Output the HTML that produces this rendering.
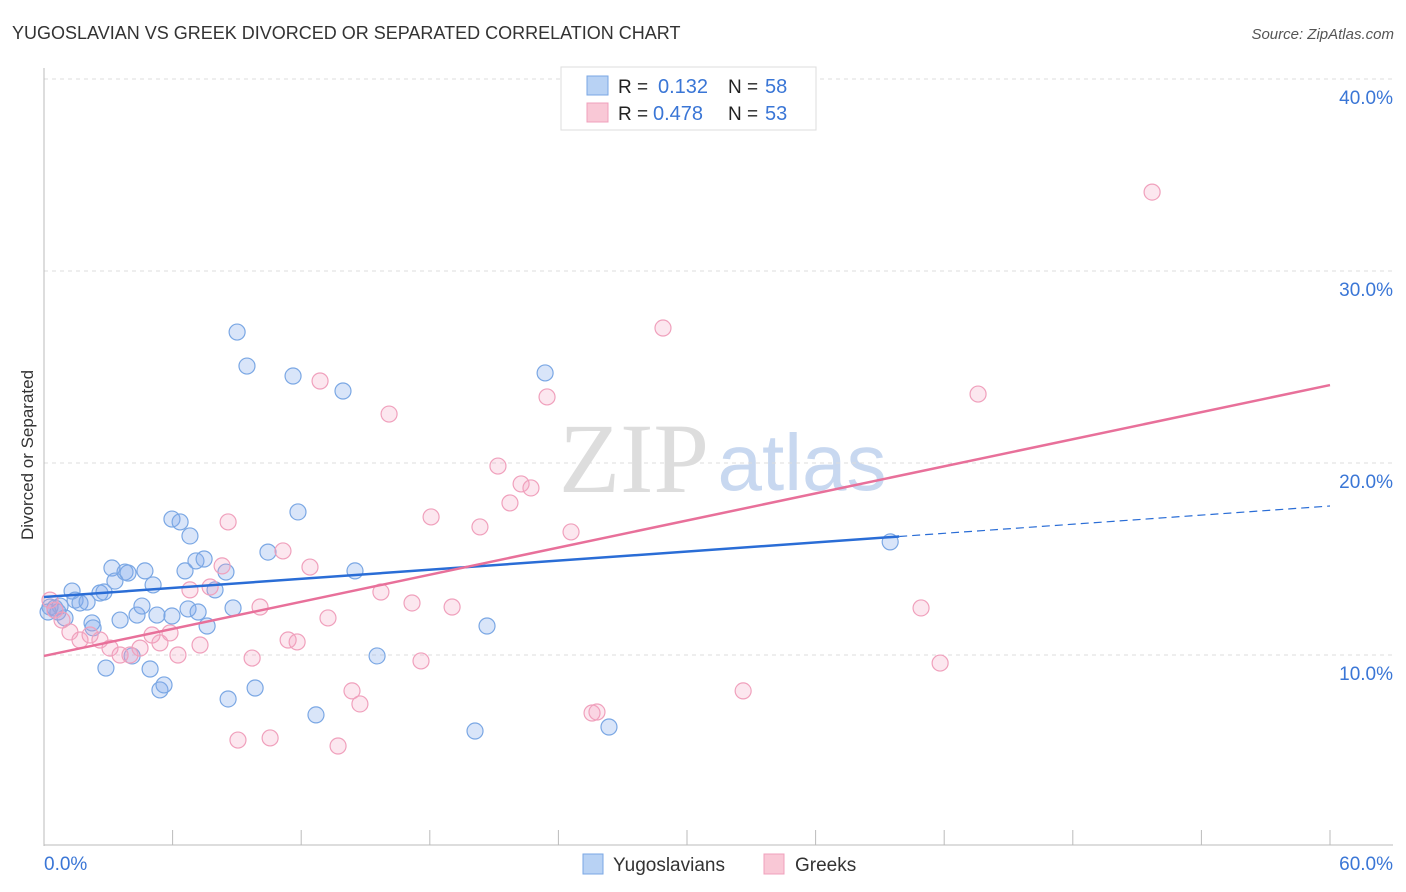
<!DOCTYPE html>
<html><head><meta charset="utf-8"><style>
body{margin:0;background:#fff;font-family:"Liberation Sans",sans-serif;}
svg{display:block}
</style></head><body>
<svg id="chart" width="1406" height="892">
<text x="12" y="39" font-size="18" fill="#333">YUGOSLAVIAN VS GREEK DIVORCED OR SEPARATED CORRELATION CHART</text>
<text x="1394" y="39" font-size="15" fill="#555" font-style="italic" text-anchor="end">Source: ZipAtlas.com</text>
<text x="33" y="455" font-size="17" fill="#333" text-anchor="middle" transform="rotate(-90 33 455)">Divorced or Separated</text>
<g><text x="634" y="492" font-size="100" font-family="Liberation Serif,serif" fill="#ddd" text-anchor="middle">ZIP</text><text x="802" y="490" font-size="80" fill="#c8d8f0" text-anchor="middle">atlas</text></g>
<g id="grid"></g><g id="axes"></g><g id="marks"></g>
<g>
<rect x="561" y="67" width="255" height="63" fill="#fff" stroke="#ddd"/>
<rect x="587" y="76" width="21" height="19" fill="#b8d2f4" stroke="#7aa7e4"/>
<rect x="587" y="103" width="21" height="19" fill="#f9c8d6" stroke="#f0a0bc"/>
<text x="618" y="93" font-size="19" fill="#222">R = </text><text x="658" y="93" font-size="20" fill="#3a76d6">0.132</text>
<text x="728" y="93" font-size="19" fill="#222">N = </text><text x="765" y="93" font-size="20" fill="#3a76d6">58</text>
<text x="618" y="120" font-size="19" fill="#222">R = </text><text x="653" y="120" font-size="20" fill="#3a76d6">0.478</text>
<text x="728" y="120" font-size="19" fill="#222">N = </text><text x="765" y="120" font-size="20" fill="#3a76d6">53</text>
</g>
<g>
<rect x="583" y="854" width="20" height="20" fill="#b8d2f4" stroke="#7aa7e4"/>
<text x="613" y="871" font-size="19" fill="#333">Yugoslavians</text>
<rect x="764" y="854" width="20" height="20" fill="#f9c8d6" stroke="#f0a0bc"/>
<text x="795" y="871" font-size="19" fill="#333">Greeks</text>
</g>
</svg>
<script>
const yTicks=[10,20,30,40];
const yTickLabels=["10.0%","20.0%","30.0%","40.0%"];
const xTicks=[0,6,12,18,24,30,36,42,48,54,60];
const blueX=[0.28,0.51,0.75,0.98,1.31,1.45,1.68,2.01,2.24,2.29,2.61,2.8,2.89,3.17,3.31,3.55,3.78,3.92,4.11,4.34,4.57,4.71,4.95,5.09,5.27,5.41,5.6,5.97,5.97,6.35,6.58,6.72,6.81,7.09,7.19,7.47,7.61,7.98,8.49,8.59,8.82,9.01,9.47,9.85,10.45,11.62,11.85,12.69,13.95,14.51,15.54,20.11,20.67,23.38,26.36,39.48,0.19,0.65];
const blueY=[12.5,12.45,12.55,11.93,13.33,12.86,12.71,12.76,11.67,11.41,13.23,13.28,9.32,14.53,13.85,11.82,14.32,14.27,9.95,12.08,12.55,14.38,9.27,13.65,12.08,8.18,8.44,17.08,12.03,16.93,14.38,12.4,16.2,14.9,12.24,15.0,11.51,13.39,14.32,7.71,12.45,26.82,25.05,8.28,15.36,24.53,17.45,6.88,23.75,14.38,9.95,6.04,11.51,24.69,6.25,15.89,12.24,12.24];
const pinkX=[0.28,0.51,0.84,1.21,1.68,2.15,2.61,3.08,3.55,4.01,4.48,5.04,5.41,5.88,6.25,6.81,7.28,7.75,8.31,8.59,9.05,9.71,10.08,10.55,11.15,11.39,11.81,12.41,12.88,13.25,13.72,14.37,14.74,15.72,16.1,17.17,17.59,18.06,19.04,20.34,21.18,21.74,22.26,22.72,23.47,24.59,25.57,25.8,28.88,32.62,40.92,41.81,43.58,51.7];
const pinkY=[12.86,12.34,11.82,11.2,10.78,11.04,10.78,10.36,10.0,10.0,10.36,11.04,10.63,11.15,10.0,13.39,10.52,13.54,14.64,16.93,5.57,9.84,12.5,5.68,15.42,10.78,10.68,14.58,24.27,11.93,5.26,8.13,7.45,13.28,22.55,12.71,9.69,17.19,12.5,16.67,19.84,17.92,18.91,18.7,23.44,16.41,6.98,7.03,27.03,8.13,12.45,9.58,23.59,34.11];
const blueTrend=[13.02,17.76], blueSolidEnd=39.9;
const pinkTrend=[9.95,24.06];
const NS='http://www.w3.org/2000/svg';
const xs=v=>44+v*(1286/60);
const ys=v=>847-v*19.2;
function mk(parent,tag,attrs){const e=document.createElementNS(NS,tag);for(const k in attrs)e.setAttribute(k,attrs[k]);document.getElementById(parent).appendChild(e);return e;}
yTicks.forEach((t,i)=>{
 const l=mk('grid','line',{x1:44,x2:1393,y1:ys(t),y2:ys(t),stroke:'#ddd','stroke-dasharray':'4,4'});
 
 
 const tx=mk('axes','text',{x:1393,y:ys(t)+25,'font-size':19,fill:'#3a76d6','text-anchor':'end'});
 tx.textContent=yTickLabels[i];
 
 
});
const tg=mk('grid','line',{x1:44,x2:1393,y1:79,y2:79,stroke:'#ddd','stroke-dasharray':'4,4'});


const ya=mk('axes','line',{x1:44,x2:44,y1:68,y2:846,stroke:'#bbb'});


const xa=mk('axes','line',{x1:44,x2:1393,y1:845,y2:845,stroke:'#bbb'});


xTicks.forEach(t=>{
 const l=mk('axes','line',{x1:xs(t),x2:xs(t),y1:830,y2:845,stroke:'#bbb'});
 
 
});
const xl0=mk('axes','text',{x:44,y:870,'font-size':19,fill:'#3a76d6'});xl0.textContent='0.0%';


const xl1=mk('axes','text',{x:1393,y:870,'font-size':19,fill:'#3a76d6','text-anchor':'end'});xl1.textContent='60.0%';


blueX.forEach((x,i)=>{
 const c=mk('marks','circle',{cx:xs(x),cy:ys(blueY[i]),r:8,fill:'rgba(130,170,235,0.3)',stroke:'#7aa7e4','stroke-width':1.2});
 
 
});
pinkX.forEach((x,i)=>{
 const c=mk('marks','circle',{cx:xs(x),cy:ys(pinkY[i]),r:8,fill:'rgba(245,160,190,0.25)',stroke:'#f0a0bc','stroke-width':1.2});
 
 
});
const bAt=x=>blueTrend[0]+(blueTrend[1]-blueTrend[0])*x/60;
const b1=mk('marks','line',{x1:xs(0),y1:ys(bAt(0)),x2:xs(blueSolidEnd),y2:ys(bAt(blueSolidEnd)),stroke:'#2a6dd6','stroke-width':2.5});


const b2=mk('marks','line',{x1:xs(blueSolidEnd),y1:ys(bAt(blueSolidEnd)),x2:xs(60),y2:ys(bAt(60)),stroke:'#2a6dd6','stroke-width':1.2,'stroke-dasharray':'8,5'});


const p1=mk('marks','line',{x1:xs(0),y1:ys(pinkTrend[0]),x2:xs(60),y2:ys(pinkTrend[1]),stroke:'#e8709a','stroke-width':2.5});


</script>
</body></html>
